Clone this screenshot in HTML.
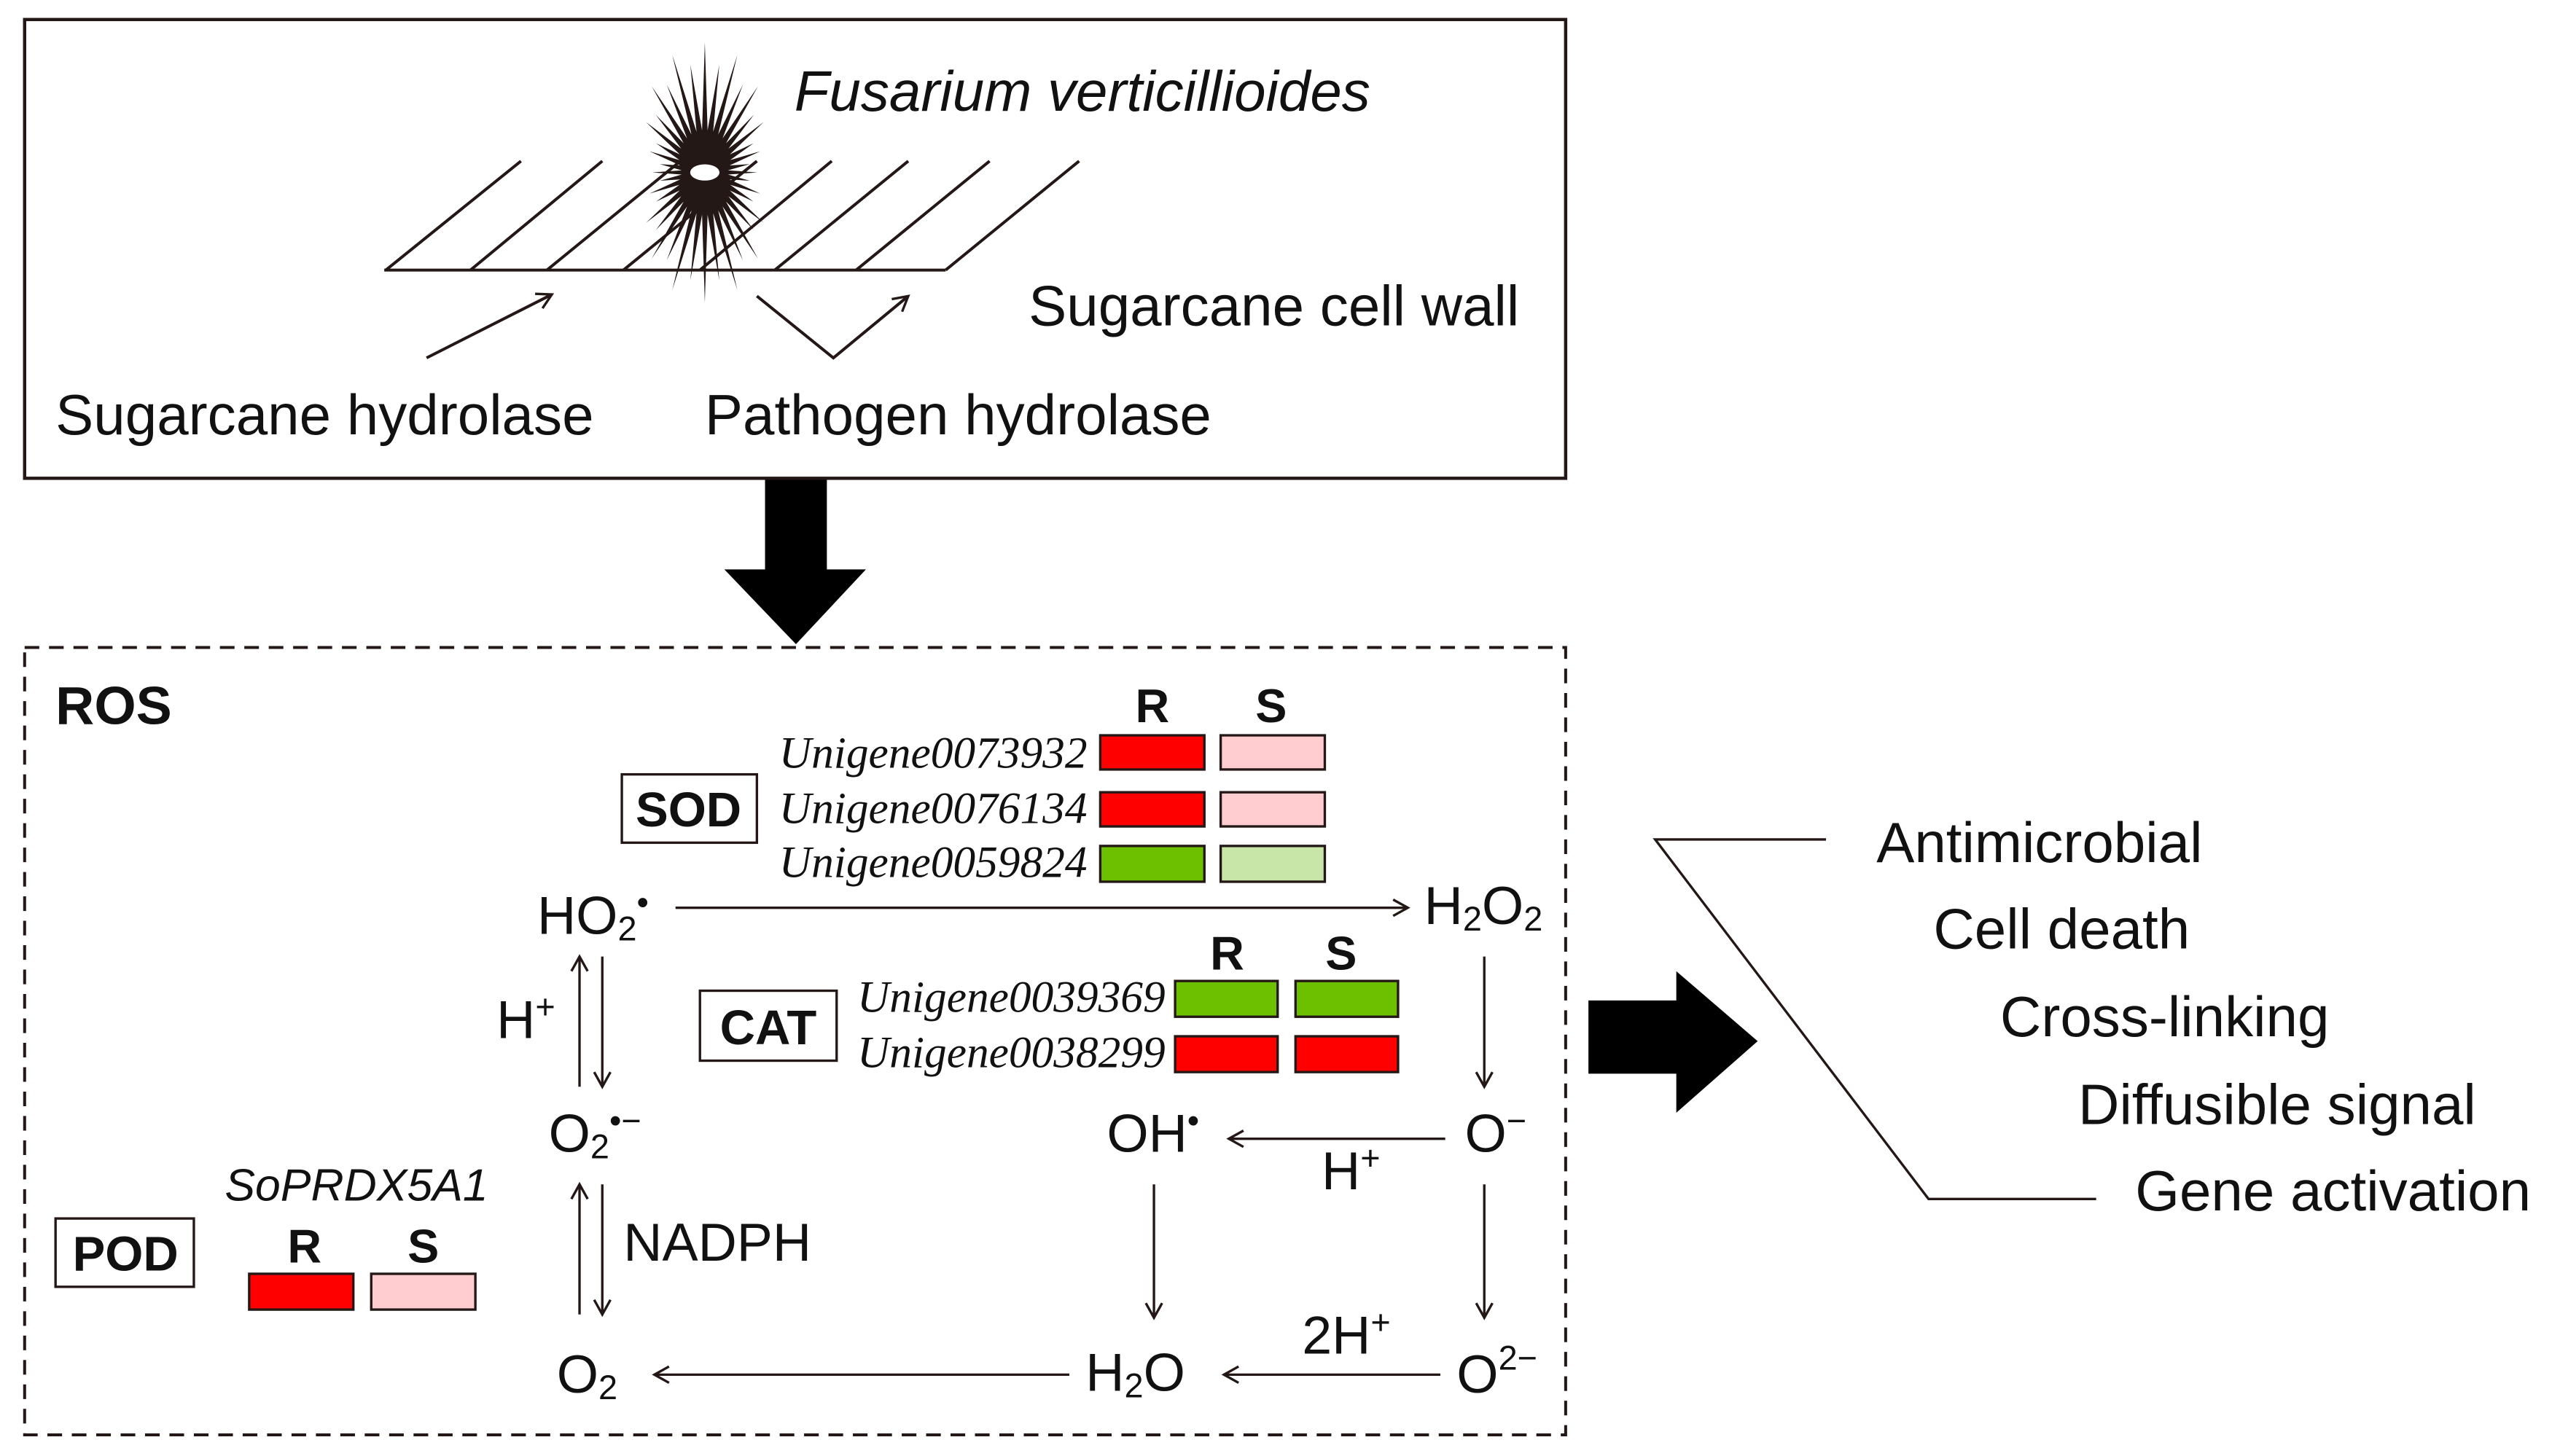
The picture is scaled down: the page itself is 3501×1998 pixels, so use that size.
<!DOCTYPE html>
<html><head><meta charset="utf-8"><style>
html,body{margin:0;padding:0;background:#fff;}
svg{display:block}
text{font-family:"Liberation Sans",Arial,sans-serif;fill:#111;}
.g text{font-family:"Liberation Serif",serif;font-style:italic;font-size:27.5px;}
.b{font-weight:bold;}
</style></head><body>
<svg id="s" width="3501" height="1998" viewBox="0 0 1568 895" xmlns="http://www.w3.org/2000/svg">
<defs>
<marker id="a" markerWidth="12" markerHeight="12" refX="10" refY="6" orient="auto" markerUnits="userSpaceOnUse">
<path d="M1,1 L10,6 L1,11" fill="none" stroke="#231815" stroke-width="1.5"/>
</marker>
</defs>
<rect x="15" y="12" width="947" height="282" fill="none" stroke="#231815" stroke-width="2"/>
<g stroke="#231815" stroke-width="1.8" fill="none">
<line x1="236" y1="166" x2="581" y2="166"/>
<line x1="237" y1="166" x2="320" y2="99"/>
<line x1="289" y1="166" x2="370" y2="99"/>
<line x1="336" y1="166" x2="418" y2="99"/>
<line x1="383" y1="166" x2="465" y2="99"/>
<line x1="430" y1="166" x2="511" y2="99"/>
<line x1="476" y1="166" x2="558" y2="99"/>
<line x1="526" y1="166" x2="608" y2="99"/>
<line x1="581" y1="166" x2="663" y2="99"/>
<line x1="262" y1="220" x2="339" y2="181" marker-end="url(#a)"/>
<polyline points="465,182 512,220 558,182" marker-end="url(#a)"/>
</g>
<path id="star" fill="#231815"/>
<ellipse cx="433" cy="106" rx="9" ry="5" fill="#fff"/>
<text x="488" y="68" font-size="35" font-style="italic">Fusarium verticillioides</text>
<text x="632" y="200" font-size="35">Sugarcane cell wall</text>
<text x="34" y="267" font-size="35">Sugarcane hydrolase</text>
<text x="433" y="267" font-size="35">Pathogen hydrolase</text>
<polygon points="470,295 508,295 508,350 532,350 489,396 445,350 470,350" fill="#000"/>
<rect x="15" y="398" width="947" height="484" fill="none" stroke="#231815" stroke-width="1.8" stroke-dasharray="9,6"/>
<text x="34" y="445" font-size="33" class="b">ROS</text>
<g font-size="29" class="b" text-anchor="middle">
<text x="708" y="444">R</text><text x="781" y="444">S</text>
<text x="754" y="596">R</text><text x="824" y="596">S</text>
<text x="187" y="776">R</text><text x="260" y="776">S</text>
</g>
<g stroke="#231815" stroke-width="1.5">
<rect x="676" y="452" width="64" height="21" fill="#ff0000"/><rect x="750" y="452" width="64" height="21" fill="#ffccd0"/>
<rect x="676" y="487" width="64" height="21" fill="#ff0000"/><rect x="750" y="487" width="64" height="21" fill="#ffccd0"/>
<rect x="676" y="520" width="64" height="22" fill="#6cc000"/><rect x="750" y="520" width="64" height="22" fill="#c8e6a8"/>
<rect x="722" y="603" width="63" height="22" fill="#6cc000"/><rect x="796" y="603" width="63" height="22" fill="#6cc000"/>
<rect x="722" y="637" width="63" height="22" fill="#ff0000"/><rect x="796" y="637" width="63" height="22" fill="#ff0000"/>
<rect x="153" y="783" width="64" height="22" fill="#ff0000"/><rect x="228" y="783" width="64" height="22" fill="#ffccd0"/>
<rect x="382" y="476" width="83" height="42" fill="#fff"/>
<rect x="430" y="609" width="84" height="43" fill="#fff"/>
<rect x="34" y="749" width="85" height="42" fill="#fff"/>
</g>
<g text-anchor="end" class="g">
<text x="668" y="472">Unigene0073932</text>
<text x="668" y="506">Unigene0076134</text>
<text x="668" y="539">Unigene0059824</text>
<text x="716" y="622">Unigene0039369</text>
<text x="716" y="656">Unigene0038299</text>
</g>
<g font-size="30" class="b" text-anchor="middle">
<text x="423" y="508">SOD</text><text x="472" y="642">CAT</text><text x="77" y="781">POD</text>
</g>
<text x="138" y="738" font-size="28" font-style="italic">SoPRDX5A1</text>
<g stroke="#231815" stroke-width="1.5" fill="none" marker-end="url(#a)">
<line x1="415" y1="558" x2="865" y2="558"/>
<line x1="356" y1="668" x2="356" y2="588"/>
<line x1="370" y1="588" x2="370" y2="668"/>
<line x1="912" y1="588" x2="912" y2="668"/>
<line x1="888" y1="700" x2="755" y2="700"/>
<line x1="709" y1="728" x2="709" y2="810"/>
<line x1="912" y1="728" x2="912" y2="810"/>
<line x1="356" y1="808" x2="356" y2="728"/>
<line x1="370" y1="728" x2="370" y2="808"/>
<line x1="657" y1="845" x2="402" y2="845"/>
<line x1="885" y1="845" x2="752" y2="845"/>
</g>
<g font-size="33">
<text x="330" y="574">HO<tspan font-size="21" dy="4">2</tspan><tspan font-size="21" dy="-16">•</tspan></text>
<text x="875" y="568">H<tspan font-size="21" dy="4">2</tspan><tspan dy="-4">O</tspan><tspan font-size="21" dy="4">2</tspan></text>
<text x="305" y="638">H<tspan font-size="21" dy="-12">+</tspan></text>
<text x="337" y="708">O<tspan font-size="21" dy="4">2</tspan><tspan font-size="21" dy="-16">•−</tspan></text>
<text x="900" y="708">O<tspan font-size="21" dy="-12">−</tspan></text>
<text x="680" y="708">OH<tspan font-size="21" dy="-12">•</tspan></text>
<text x="812" y="731">H<tspan font-size="21" dy="-12">+</tspan></text>
<text x="383" y="775">NADPH</text>
<text x="342" y="856">O<tspan font-size="21" dy="4">2</tspan></text>
<text x="667" y="855">H<tspan font-size="21" dy="4">2</tspan><tspan dy="-4">O</tspan></text>
<text x="800" y="832">2H<tspan font-size="21" dy="-12">+</tspan></text>
<text x="895" y="856">O<tspan font-size="21" dy="-14">2−</tspan></text>
</g>
<polygon points="976,615 1030,615 1030,597 1080,640 1030,684 1030,660 976,660" fill="#000"/>
<polyline points="1122,516 1017,516 1185,737 1288,737" fill="none" stroke="#231815" stroke-width="1.5"/>
<g font-size="35">
<text x="1153" y="530">Antimicrobial</text>
<text x="1188" y="583">Cell death</text>
<text x="1229" y="637">Cross-linking</text>
<text x="1277" y="691">Diffusible signal</text>
<text x="1312" y="744">Gene activation</text>
</g>
</svg>
<script>
(function(){
var cx=433,cy=106,n=40,d="";
for(var i=0;i<n;i++){
 var t=i/n*2*Math.PI;
 var s=Math.abs(Math.cos(t));
 var L=(i%2==0)?(38+42*Math.pow(s,2)):(32+36*Math.pow(s,2));
 var ti=(i+0.5)/n*2*Math.PI;
 var r=16+10*Math.abs(Math.cos(ti));
 var x1=cx+L*Math.sin(t)*0.85,y1=cy-L*Math.cos(t);
 var x2=cx+r*Math.sin(ti)*0.85,y2=cy-r*Math.cos(ti);
 d+=(i==0?"M":"L")+x1.toFixed(1)+","+y1.toFixed(1)+" L"+x2.toFixed(1)+","+y2.toFixed(1)+" ";
}
document.getElementById("star").setAttribute("d",d+"Z");
})();
</script>
</body></html>
